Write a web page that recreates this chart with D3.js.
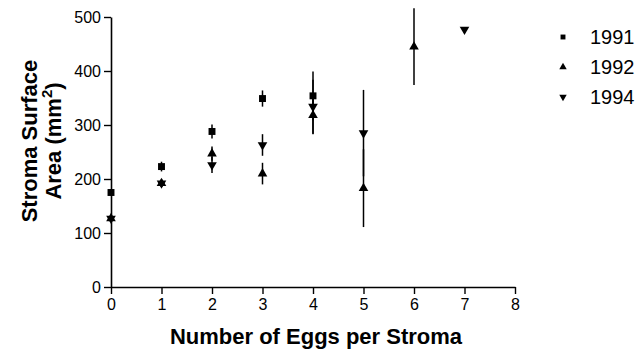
<!DOCTYPE html>
<html>
<head>
<meta charset="utf-8">
<script src="https://cdn.jsdelivr.net/npm/d3@7"></script>
<style>
  body { margin: 0; background: #fff; }
  svg { display: block; font-family: Arial, "Liberation Sans", sans-serif; }
</style>
</head>
<body>
<div id="chart"></div>
<script>
// eggs per stroma (x) and mean surface area with error for each year
const xTicks = [0, 1, 2, 3, 4, 5, 6, 7, 8];
const yTicks = [0, 100, 200, 300, 400, 500];
const years = ['1991', '1992', '1994'];

const x1991 = [0, 1, 2, 3, 4];
const y1991 = [175, 223, 288, 349, 354];
const e1991 = [6, 9, 13, 15, 45];

const x1992 = [0, 1, 2, 3, 4, 5, 6];
const y1992 = [127, 192, 247, 210, 318, 183, 445];
const e1992 = [5, 7, 13, 20, 35, 72, 71];

const x1994 = [0, 1, 2, 3, 4, 5, 7];
const y1994 = [127, 192, 226, 263, 334, 285, 477];
const e1994 = [5, 7, 15, 20, 50, 80, 0];

const width = 637, height = 355;
const margin = {top: 17, right: 122, bottom: 68, left: 111};

const svg = d3.select('#chart').append('svg')
  .attr('width', width)
  .attr('height', height);

const x = d3.scaleLinear().domain([0, 8]).range([margin.left, width - margin.right]);
const y = d3.scaleLinear().domain([0, 500]).range([height - margin.bottom, margin.top]);

// axes
const xAxis = d3.axisBottom(x).tickValues(xTicks).tickSize(7).tickPadding(5).tickSizeOuter(0);
const yAxis = d3.axisLeft(y).tickValues(yTicks).tickSize(7).tickPadding(3).tickSizeOuter(0);

const gx = svg.append('g')
  .attr('transform', `translate(0,${y(0)})`)
  .call(xAxis);
const gy = svg.append('g')
  .attr('transform', `translate(${x(0)},0)`)
  .call(yAxis);

[gx, gy].forEach(g => {
  g.select('.domain').attr('stroke', '#000').attr('stroke-width', 1.6);
  g.selectAll('.tick line').attr('stroke', '#000').attr('stroke-width', 1.4);
  g.selectAll('.tick text').attr('fill', '#000').style('font-size', '16px');
});

// series
const shapes = {
  '1991': {sym: d3.symbolSquare, size: 48, rot: 0},
  '1992': {sym: d3.symbolTriangle, size: 40, rot: 0},
  '1994': {sym: d3.symbolTriangle, size: 40, rot: 180}
};
const series = [
  {year: '1991', xs: x1991, ys: y1991, es: e1991},
  {year: '1992', xs: x1992, ys: y1992, es: e1992},
  {year: '1994', xs: x1994, ys: y1994, es: e1994}
];

series.forEach(s => {
  const pts = s.xs.map((v, i) => ({x: v, y: s.ys[i], e: s.es[i]}));
  const g = svg.append('g');
  g.selectAll('line.err')
    .data(pts.filter(d => d.e > 0))
    .enter().append('line')
    .attr('class', 'err')
    .attr('x1', d => x(d.x)).attr('x2', d => x(d.x))
    .attr('y1', d => y(d.y - d.e)).attr('y2', d => y(d.y + d.e))
    .attr('stroke', '#000')
    .attr('stroke-width', 1.5);
  const sh = shapes[s.year];
  g.selectAll('path')
    .data(pts)
    .enter().append('path')
    .attr('d', d3.symbol().type(sh.sym).size(sh.size))
    .attr('transform', d => `translate(${x(d.x)},${y(d.y)}) rotate(${sh.rot})`)
    .attr('fill', '#000');
});

// legend
const legend = svg.append('g');
years.forEach((yr, i) => {
  const sh = shapes[yr];
  const ly = 37 + i * 30;
  legend.append('path')
    .attr('d', d3.symbol().type(sh.sym).size(24))
    .attr('transform', `translate(563,${ly}) rotate(${sh.rot})`)
    .attr('fill', '#000');
  legend.append('text')
    .attr('x', 590)
    .attr('y', ly)
    .attr('dy', '0.36em')
    .style('font-size', '20px')
    .attr('fill', '#000')
    .text(yr);
});

// axis titles
svg.append('text')
  .attr('x', 316)
  .attr('y', 344)
  .attr('text-anchor', 'middle')
  .style('font-size', '22px')
  .style('font-weight', 'bold')
  .text('Number of Eggs per Stroma');

const yt = svg.append('g').attr('transform', 'translate(0,141) rotate(-90)');
yt.append('text')
  .attr('x', 0).attr('y', 37)
  .attr('text-anchor', 'middle')
  .style('font-size', '22px')
  .style('font-weight', 'bold')
  .text('Stroma Surface');
const t2 = yt.append('text')
  .attr('x', 0).attr('y', 61)
  .attr('text-anchor', 'middle')
  .style('font-size', '22px')
  .style('font-weight', 'bold');
t2.append('tspan').text('Area (mm');
t2.append('tspan').attr('dy', -9).style('font-size', '15px').text('2');
t2.append('tspan').attr('dy', 9).text(')');
</script>
</body>
</html>
